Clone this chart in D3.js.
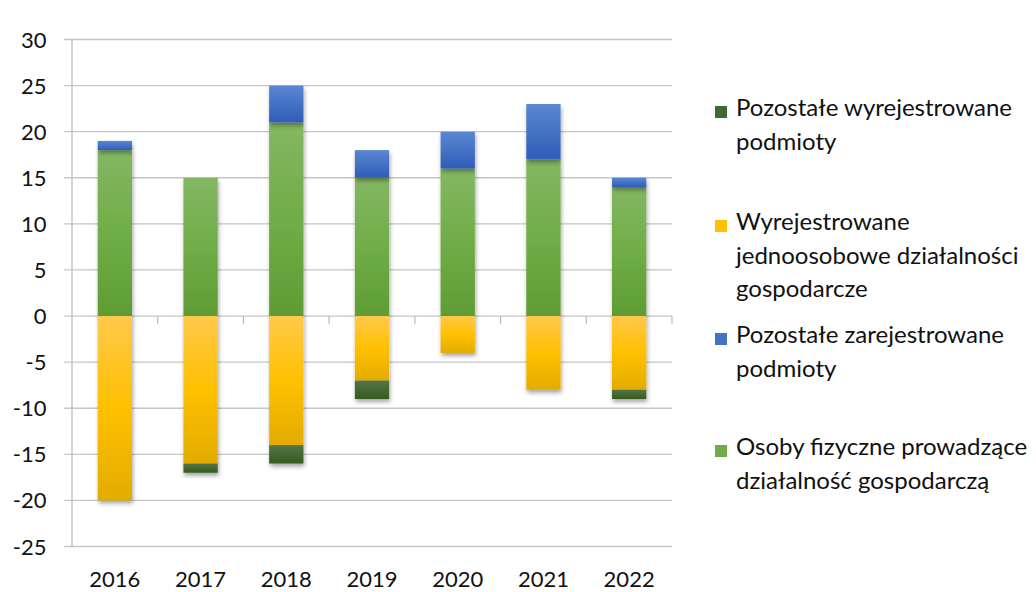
<!DOCTYPE html>
<html>
<head>
<meta charset="utf-8">
<script src="https://cdn.jsdelivr.net/npm/d3@7"></script>
<style>
  body { margin: 0; background: #fff; }
  svg text { font-family: Lato, "Open Sans", sans-serif; fill: #111; }
</style>
</head>
<body>
<div id="plot"></div>
<script>
// chart data
var years = ["2016", "2017", "2018", "2019", "2020", "2021", "2022"];
var osobyFizyczne = [18, 15, 21, 15, 16, 17, 14];
var pozostaleZarejestrowane = [1, 0, 4, 3, 4, 6, 1];
var wyrejestrowaneJdg = [-20, -16, -14, -7, -4, -8, -8];
var pozostaleWyrejestrowane = [0, -1, -2, -2, 0, 0, -1];
var yTicks = [30, 25, 20, 15, 10, 5, 0, -5, -10, -15, -20, -25];

var seriesKeys = ["osoby", "pozZar", "wyrJdg", "pozWyr"];
var seriesValues = {
  osoby: osobyFizyczne,
  pozZar: pozostaleZarejestrowane,
  wyrJdg: wyrejestrowaneJdg,
  pozWyr: pozostaleWyrejestrowane
};
var seriesLabels = {
  osoby: ["Osoby fizyczne prowadzące", "działalność gospodarczą"],
  pozZar: ["Pozostałe zarejestrowane", "podmioty"],
  wyrJdg: ["Wyrejestrowane", "jednoosobowe działalności", "gospodarcze"],
  pozWyr: ["Pozostałe wyrejestrowane", "podmioty"]
};
// gradient stops: top, middle, bottom
var seriesColors = {
  osoby: ["#84b763", "#70ad47", "#5f9c34"],
  pozZar: ["#5b86d2", "#4472c4", "#2f5db7"],
  wyrJdg: ["#ffc94a", "#ffc000", "#e2ac00"],
  pozWyr: ["#56724a", "#426a30", "#365a22"]
};
var legendOrder = ["pozWyr", "wyrJdg", "pozZar", "osoby"];

var width = 1036;
var height = 592;
var margin = { left: 72, right: 364, top: 39.5, bottom: 45.5 };

var table = years.map(function (y, i) {
  var row = { year: y };
  seriesKeys.forEach(function (k) { row[k] = seriesValues[k][i]; });
  return row;
});

var stacked = d3.stack().keys(seriesKeys).offset(d3.stackOffsetDiverging)(table);

var x = d3.scaleBand()
  .domain(years)
  .range([margin.left, width - margin.right])
  .paddingInner(0.6)
  .paddingOuter(0.3);

var y = d3.scaleLinear()
  .domain([-25, 30])
  .range([height - margin.bottom, margin.top]);

var svg = d3.select("#plot")
  .append("svg")
  .attr("width", width)
  .attr("height", height);

var defs = svg.append("defs");

seriesKeys.forEach(function (k) {
  var g = defs.append("linearGradient")
    .attr("id", "grad-" + k)
    .attr("x1", 0).attr("y1", 0).attr("x2", 0).attr("y2", 1);
  g.append("stop").attr("offset", "0%").attr("stop-color", seriesColors[k][0]);
  g.append("stop").attr("offset", "50%").attr("stop-color", seriesColors[k][1]);
  g.append("stop").attr("offset", "100%").attr("stop-color", seriesColors[k][2]);
});

var shadow = defs.append("filter")
  .attr("id", "shadow")
  .attr("x", "-30%").attr("y", "-10%")
  .attr("width", "160%").attr("height", "130%");
shadow.append("feDropShadow")
  .attr("dx", 1).attr("dy", 3)
  .attr("stdDeviation", 2)
  .attr("flood-color", "#000")
  .attr("flood-opacity", 0.35);

// gridlines
svg.append("g")
  .selectAll("line")
  .data(yTicks)
  .enter()
  .append("line")
  .attr("x1", margin.left - 8)
  .attr("x2", width - margin.right)
  .attr("y1", function (d) { return y(d); })
  .attr("y2", function (d) { return y(d); })
  .attr("stroke", "#c6c6c6")
  .attr("stroke-width", 1.3);

// y axis line
svg.append("line")
  .attr("x1", margin.left).attr("x2", margin.left)
  .attr("y1", y(30)).attr("y2", y(-25))
  .attr("stroke", "#bfbfbf")
  .attr("stroke-width", 1.3);

// y labels
svg.append("g")
  .selectAll("text")
  .data(yTicks)
  .enter()
  .append("text")
  .attr("x", 46.5)
  .attr("y", function (d) { return y(d) + 8; })
  .attr("text-anchor", "end")
  .style("font-size", "22px")
  .text(function (d) { return d; });

// category tick marks on the zero line
var plotW = width - margin.right - margin.left;
svg.append("g")
  .selectAll("line")
  .data(years)
  .enter()
  .append("line")
  .attr("x1", function (d, i) { return margin.left + (i + 1) * plotW / years.length; })
  .attr("x2", function (d, i) { return margin.left + (i + 1) * plotW / years.length; })
  .attr("y1", y(0))
  .attr("y2", y(0) + 8)
  .attr("stroke", "#bfbfbf")
  .attr("stroke-width", 1.3);

// bars
var layers = svg.append("g")
  .selectAll("g")
  .data(stacked)
  .enter()
  .append("g")
  .attr("fill", function (d) { return "url(#grad-" + d.key + ")"; })
  .attr("filter", "url(#shadow)");

layers.selectAll("rect")
  .data(function (d) { return d.filter(function (s) { return s[1] - s[0] !== 0; }); })
  .enter()
  .append("rect")
  .attr("x", function (d) { return x(d.data.year); })
  .attr("width", x.bandwidth())
  .attr("y", function (d) { return y(Math.max(d[0], d[1])); })
  .attr("height", function (d) { return Math.abs(y(d[0]) - y(d[1])); });

// x labels
svg.append("g")
  .selectAll("text")
  .data(years)
  .enter()
  .append("text")
  .attr("x", function (d) { return x(d) + x.bandwidth() / 2; })
  .attr("y", 587)
  .attr("text-anchor", "middle")
  .style("font-size", "22px")
  .text(function (d) { return d; });

// legend
var legendTop = [116, 230, 343, 455];
var legend = svg.append("g")
  .selectAll("g")
  .data(legendOrder)
  .enter()
  .append("g")
  .attr("transform", function (d, i) { return "translate(715," + legendTop[i] + ")"; });

legend.append("rect")
  .attr("x", 0)
  .attr("y", -10)
  .attr("width", 12)
  .attr("height", 12)
  .attr("fill", function (d) { return seriesColors[d][1]; });

legend.append("text")
  .style("font-size", "24px")
  .selectAll("tspan")
  .data(function (d) { return seriesLabels[d]; })
  .enter()
  .append("tspan")
  .attr("x", 21)
  .attr("y", function (d, i) { return i * 33.5; })
  .text(function (d) { return d; });
</script>
</body>
</html>
